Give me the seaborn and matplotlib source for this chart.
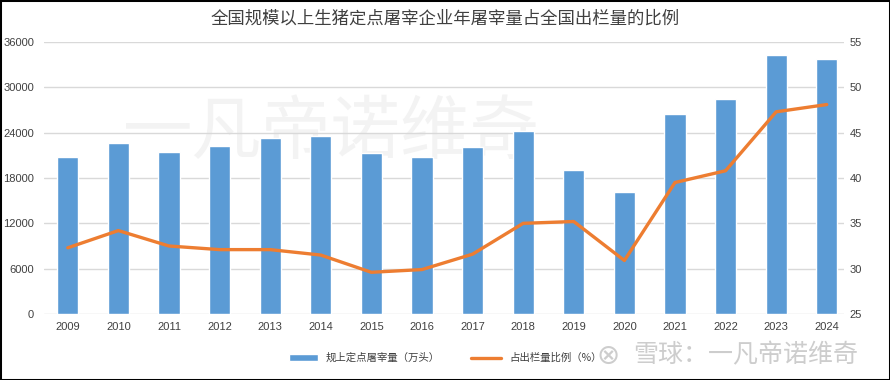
import matplotlib
matplotlib.use("Agg")
import matplotlib.pyplot as plt
from matplotlib.patches import Rectangle
import seaborn as sns
import pandas as pd

# ---------------------------
# Data
# ---------------------------
years = ["2009", "2010", "2011", "2012", "2013", "2014", "2015", "2016",
         "2017", "2018", "2019", "2020", "2021", "2022", "2023", "2024"]
slaughter = [20800, 22650, 21450, 22250, 23300, 23550, 21300, 20800,
             22150, 24250, 19100, 16200, 26500, 28500, 34300, 33800]
ratio = [32.3, 34.2, 32.5, 32.1, 32.1, 31.5, 29.6, 29.9,
         31.6, 35.0, 35.2, 30.9, 39.5, 40.8, 47.3, 48.1]

left_ticks = [0, 6000, 12000, 18000, 24000, 30000, 36000]
right_ticks = [25, 30, 35, 40, 45, 50, 55]

title = "全国规模以上生猪定点屠宰企业年屠宰量占全国出栏量的比例"
bar_label = "规上定点屠宰量（万头）"
line_label = "占出栏量比例（%）"

df = pd.DataFrame({"year": years, "slaughter": slaughter, "ratio": ratio})

BLUE = "#5B9BD5"
ORANGE = "#ED7D31"
GRID = "#D9D9D9"
TXT = "#404040"

sns.set_theme(style="white")
plt.rcParams["font.family"] = ["Noto Sans CJK SC", "DejaVu Sans"]

fig = plt.figure(figsize=(8.9, 3.8), dpi=100)
ax = fig.add_axes([0.0494, 0.1737, 0.8989, 0.7158])
ax2 = ax.twinx()

# watermark behind the bars
ax.text(0.36, 0.665, "一凡帝诺维奇", transform=ax.transAxes, ha="center",
        va="center", fontsize=50, color="#F3F3F3", zorder=0.5)

# bars
sns.barplot(data=df, x="year", y="slaughter", color=BLUE, width=0.42,
            saturation=1, ax=ax, label=bar_label, zorder=2)
# line on secondary axis
sns.lineplot(data=df, x="year", y="ratio", color=ORANGE, linewidth=2.4,
             ax=ax2, label=line_label, zorder=3)

ax.set_xlim(-0.47, 15.34)
ax.set_ylim(0, 36000)
ax2.set_ylim(25, 55)
ax.set_yticks(left_ticks)
ax2.set_yticks(right_ticks)
ax.set_xlabel("")
ax.set_ylabel("")
ax2.set_ylabel("")

ax.grid(axis="y", color=GRID, linewidth=1)
ax.grid(axis="x", visible=False)
ax2.grid(False)
ax.set_axisbelow(True)
for a in (ax, ax2):
    for s in a.spines.values():
        s.set_visible(False)
    a.tick_params(length=0, labelsize=8, colors=TXT)
    for lbl in a.get_xticklabels() + a.get_yticklabels():
        lbl.set_family(["Liberation Sans", "DejaVu Sans"])
ax.tick_params(axis="y", pad=7)
ax.tick_params(axis="x", pad=6)
ax2.tick_params(axis="y", pad=4)

# keep line above bars
ax2.set_zorder(ax.get_zorder() + 1)
ax2.patch.set_visible(False)

# legend
h1, l1 = ax.get_legend_handles_labels()
h2, l2 = ax2.get_legend_handles_labels()
for a in (ax, ax2):
    if a.get_legend():
        a.get_legend().remove()
fig.legend(h1 + h2, l1 + l2, loc="center", bbox_to_anchor=(0.5, 0.058),
           ncol=2, frameon=False, fontsize=7.5, handlelength=2.8,
           handleheight=0.6, columnspacing=3.0, labelcolor=TXT)

# title
fig.text(0.5, 0.952, title, ha="center", va="center", fontsize=12.5,
         color=TXT)

# bottom watermark
fig.text(0.838, 0.064, "雪球：一凡帝诺维奇", ha="center", va="center",
         fontsize=18, color="#CDCDCD")
fig.text(0.683, 0.064, "⊗", ha="center", va="center", fontsize=20,
         color="#CDCDCD", family=["DejaVu Sans"])

# outer frame
fig.patches.append(Rectangle((0, 0), 1, 1, transform=fig.transFigure,
                             fill=False, edgecolor="black", linewidth=2.2))

fig.savefig("out.png", dpi=100)
